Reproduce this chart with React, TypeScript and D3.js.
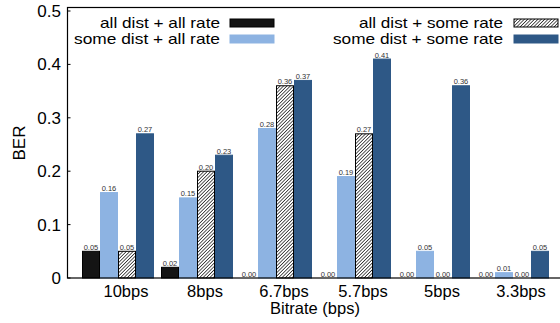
import * as d3 from "d3";

const categories = ["10bps", "8bps", "6.7bps", "5.7bps", "5bps", "3.3bps"];
const seriesNames = [
  "all dist + all rate",
  "some dist + all rate",
  "all dist + some rate",
  "some dist + some rate",
];
const allDistAllRate = [0.05, 0.02, 0.0, 0.0, 0.0, 0.0];
const someDistAllRate = [0.16, 0.15, 0.28, 0.19, 0.05, 0.01];
const allDistSomeRate = [0.05, 0.2, 0.36, 0.27, 0.0, 0.0];
const someDistSomeRate = [0.27, 0.23, 0.37, 0.41, 0.36, 0.05];
const yTicks = [0, 0.1, 0.2, 0.3, 0.4, 0.5];

const seriesValues = [allDistAllRate, someDistAllRate, allDistSomeRate, someDistSomeRate];

const W = 560;
const H = 323;
const left = 67.5;
const right = 563;
const top = 7.5;
const bottom = 278;
const font = "'Liberation Sans', Arial, Helvetica, sans-serif";

const fills = ["#141414", "#8db3e2", "url(#hatch)", "#2e5886"];
const strokes = ["#000", "#8db3e2", "#000", "#2e5886"];

export default function App() {
  const y = d3.scaleLinear().domain([0, 0.5]).range([bottom, 11]);
  const x = d3.scaleBand<string>().domain(categories).range([82, 549]).paddingInner(7 / 79).paddingOuter(0);
  const xs = d3.scaleBand<number>().domain(d3.range(4)).range([0, x.bandwidth()]);

  // legend: text right-aligned, swatch to its right
  const legendRows = [
    { name: seriesNames[0], i: 0, tx: 220, sx: 230, row: 0, len: 120 },
    { name: seriesNames[1], i: 1, tx: 220, sx: 230, row: 1, len: 146 },
    { name: seriesNames[2], i: 2, tx: 503, sx: 514, row: 0, len: 144 },
    { name: seriesNames[3], i: 3, tx: 503, sx: 514, row: 1, len: 170 },
  ];

  return (
    <svg width={W} height={H} style={{ position: "absolute", left: 0, top: 0, background: "#fff" }} fontFamily={font}>
      <defs>
        <pattern id="hatch" patternUnits="userSpaceOnUse" width="2.4" height="2.4" patternTransform="rotate(45)">
          <rect width="2.4" height="2.4" fill="#fff" />
          <line x1="0" y1="0" x2="0" y2="2.4" stroke="#000" strokeWidth="1.3" />
        </pattern>
      </defs>

      {/* bars */}
      {categories.map((c, ci) => (
        <g key={c} transform={`translate(${x(c)},0)`}>
          {seriesValues.map((vals, si) => {
            const v = vals[ci];
            const bx = xs(si)!;
            const bw = xs.bandwidth();
            return (
              <g key={si}>
                {v > 0 && (
                  <rect
                    x={bx + 0.5}
                    y={y(v)}
                    width={bw - 1}
                    height={bottom - y(v)}
                    fill={fills[si]}
                    stroke={strokes[si]}
                    strokeWidth={1}
                  />
                )}
                <text x={bx + bw / 2} y={y(v) - 1.5} textAnchor="middle" fontSize={7.5} fill="#333">
                  {v.toFixed(2)}
                </text>
              </g>
            );
          })}
        </g>
      ))}

      {/* frame */}
      <rect x={left} y={top} width={right - left} height={bottom - top} fill="none" stroke="#000" strokeWidth={1.2} />

      {/* y axis */}
      {yTicks.map((t) => (
        <g key={t}>
          <line x1={left} x2={left + 3} y1={y(t)} y2={y(t)} stroke="#000" />
          <text x={61} y={y(t) + 6} textAnchor="end" fontSize={17}>
            {t === 0 ? "0" : t.toFixed(1)}
          </text>
        </g>
      ))}
      <text transform={`translate(25,143) rotate(-90)`} textAnchor="middle" fontSize={17}>
        BER
      </text>

      {/* x axis */}
      {categories.map((c) => (
        <text key={c} x={x(c)! + x.bandwidth() / 2 + 8} y={297} textAnchor="middle" fontSize={16.5}>
          {c}
        </text>
      ))}
      <text x={315} y={314} textAnchor="middle" fontSize={16.5}>
        Bitrate (bps)
      </text>

      {/* legend */}
      {legendRows.map((r) => (
        <g key={r.name}>
          <text
            x={r.tx}
            y={28 + r.row * 16}
            textAnchor="end"
            fontSize={15}
            textLength={r.len}
            lengthAdjust="spacingAndGlyphs"
          >
            {r.name}
          </text>
          <rect
            x={r.sx}
            y={19 + r.row * 16}
            width={44}
            height={8}
            fill={fills[r.i]}
            stroke={strokes[r.i]}
            strokeWidth={1}
          />
        </g>
      ))}
    </svg>
  );
}
